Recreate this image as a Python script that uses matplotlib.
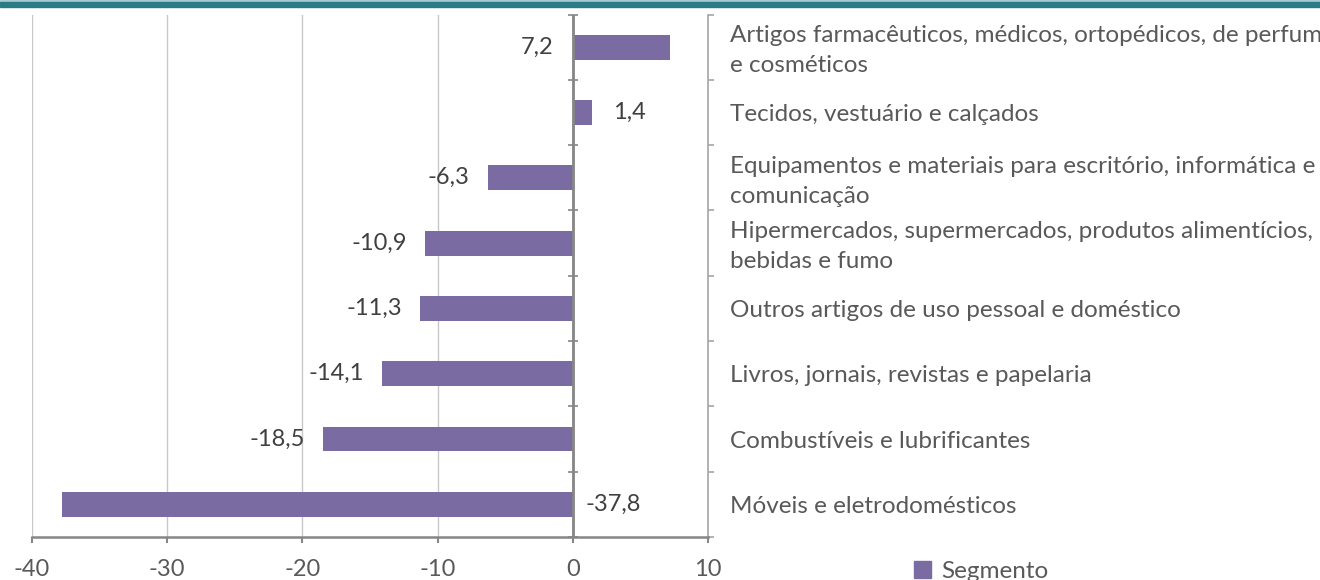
import numpy as np
import matplotlib.pyplot as plt
from matplotlib.patches import Rectangle, Patch

# dados (de baixo para cima)
categorias = [
    'Móveis e eletrodomésticos',
    'Combustíveis e lubrificantes',
    'Livros, jornais, revistas e papelaria',
    'Outros artigos de uso pessoal e doméstico',
    'Hipermercados, supermercados, produtos alimentícios,\nbebidas e fumo',
    'Equipamentos e materiais para escritório, informática e\ncomunicação',
    'Tecidos, vestuário e calçados',
    'Artigos farmacêuticos, médicos, ortopédicos, de perfumaria\ne cosméticos',
]
valores = [-37.8, -18.5, -14.1, -11.3, -10.9, -6.3, 1.4, 7.2]
ticks_x = [-40, -30, -20, -10, 0, 10]
serie = 'Segmento'

plt.rcParams['font.family'] = ['Lato', 'DejaVu Sans']

W, H = 1320, 580
fig = plt.figure(figsize=(W / 100, H / 100), dpi=100)
ax = fig.add_axes([32 / W, (H - 537) / H, (708 - 32) / W, (537 - 14.5) / H])

cor_barra = '#7a6ca2'
cinza_eixo = '#868686'
n = len(valores)
y = np.arange(n)

ax.barh(y, valores, height=0.38, color=cor_barra, zorder=3)
ax.set_xlim(ticks_x[0], ticks_x[-1])
ax.set_ylim(-0.5, n - 0.5)

# eixo x
ax.set_xticks(ticks_x)
ax.set_xticklabels([str(t) for t in ticks_x])
ax.grid(axis='x', color='#c8c8c8', lw=1, zorder=0)
ax.tick_params(axis='x', direction='out', length=4.5, width=1.5, color=cinza_eixo,
               labelsize=17, labelcolor='#595959', pad=11)

for s in ['top', 'left']:
    ax.spines[s].set_visible(False)
ax.spines['bottom'].set_color(cinza_eixo)
ax.spines['bottom'].set_linewidth(1.8)
ax.spines['right'].set_color('#a6a6a6')
ax.spines['right'].set_linewidth(1.2)

# eixo de categorias à direita (marcas nos limites, rótulos ao lado)
limites = np.arange(-0.5, n, 1)
ax.yaxis.tick_right()
ax.set_yticks(limites)
ax.set_yticklabels([])
ax.tick_params(axis='y', which='major', direction='out', length=4.3, width=1.2, color='#a6a6a6')

for i, cat in enumerate(categorias):
    if '\n' in cat:
        va, dy = 'center', -2.5
    else:
        va, dy = 'center_baseline', 0
    ax.annotate(cat, xy=(1, i), xycoords=('axes fraction', 'data'),
                xytext=(16, dy), textcoords='offset points', ha='left', va=va,
                fontsize=17.5, color='#595959', linespacing=1.52)

# linha do zero com marcas cruzadas
ax.axvline(0, color=cinza_eixo, lw=2, zorder=4)
ax.plot(np.zeros(len(limites)), limites, ls='none', marker='_', ms=7, mew=1.2,
        color=cinza_eixo, zorder=4, clip_on=False)

# rótulos dos valores
vmin, vmax = min(valores), max(valores)
for i, v in enumerate(valores):
    txt = f'{v:.1f}'.replace('.', ',')
    if v == vmin:
        xy, dx, ha = (0, i), 9, 'left'
    elif v == vmax:
        xy, dx, ha = (0, i), -14, 'right'
    elif v > 0:
        xy, dx, ha = (v, i), 15, 'left'
    else:
        xy, dx, ha = (v, i), -13, 'right'
    ax.annotate(txt, xy=xy, xytext=(dx, 0), textcoords='offset points',
                ha=ha, va='center', fontsize=17, color='#404040', zorder=5)

# legenda
fig.legend(handles=[Patch(color=cor_barra)], labels=[serie], loc='upper left',
           bbox_to_anchor=(914 / W, (H - 561) / H), frameon=False, fontsize=17.5,
           handlelength=0.7, handleheight=0.7, handletextpad=0.42,
           borderpad=0, borderaxespad=0, labelcolor='#595959')

# faixa superior
fig.patches.append(Rectangle((0, 1 - 2 / H), 1, 2 / H, transform=fig.transFigure,
                             color='#a9cbd0', zorder=0))
fig.patches.append(Rectangle((0, 1 - 7 / H), 1, 5 / H, transform=fig.transFigure,
                             color='#2a7b86', zorder=0))

fig.savefig('out.png', dpi=100)
